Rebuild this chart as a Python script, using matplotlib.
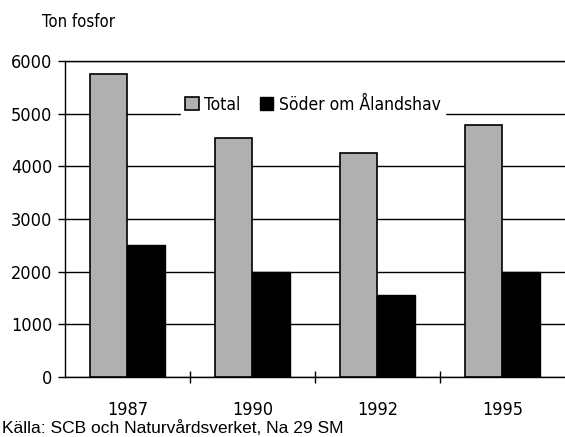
import matplotlib.pyplot as plt
import numpy as np

plt.rcParams['font.family'] = ['DejaVu Sans']
plt.rcParams['font.stretch'] = 'condensed'

years = ['1987', '1990', '1992', '1995']
total = [5750, 4540, 4250, 4790]
soder = [2500, 2000, 1550, 2000]
yticks = [0, 1000, 2000, 3000, 4000, 5000, 6000]

fig = plt.figure(figsize=(5.65, 4.37), dpi=100)
ax = fig.add_axes([0.115, 0.1373, 0.885, 0.7231])

x = np.arange(len(years))
w = 0.3
ax.bar(x - w / 2, total, w, color='#b0b0b0', edgecolor='black', linewidth=1.2,
       zorder=3, label='Total')
ax.bar(x + w / 2, soder, w, color='black', edgecolor='black', linewidth=1.0,
       zorder=3, label='Söder om Ålandshav')

ax.set_xlim(-0.5, len(years) - 0.5)
ax.set_ylim(0, 6000)
ax.set_yticks(yticks)
ax.set_yticklabels([str(v) for v in yticks], fontsize=13)
ax.yaxis.grid(True, color='black', linewidth=1.0, zorder=0)
ax.set_axisbelow(True)

# category ticks sit between groups
ax.set_xticks(x)
ax.set_xticklabels(years, fontsize=13)
ax.tick_params(axis='x', length=0, pad=17)
ax.set_xticks(np.arange(0.5, len(years) - 0.5, 1), minor=True)
ax.tick_params(axis='x', which='minor', length=9, direction='inout', width=1)
ax.tick_params(axis='y', length=5, width=1, direction='out', pad=4)

for s in ['top', 'left', 'bottom']:
    ax.spines[s].set_linewidth(1.0)
ax.spines['right'].set_visible(False)

leg = ax.legend(loc='center left', bbox_to_anchor=(0.214, 0.862), ncol=2,
                fontsize=12.5, frameon=True, fancybox=False, edgecolor='white',
                framealpha=1, handlelength=0.8, handleheight=0.8,
                handletextpad=0.3, columnspacing=1.1, borderpad=0.25)
leg.set_zorder(5)

fig.text(0.074, 0.95, 'Ton fosfor', fontsize=12, va='center')
fig.text(0.004, 0.02, 'Källa: SCB och Naturvårdsverket, Na 29 SM',
         fontsize=12.5, va='center', family=['Liberation Sans', 'DejaVu Sans'],
         stretch='normal')

fig.savefig('out.png', dpi=100)
